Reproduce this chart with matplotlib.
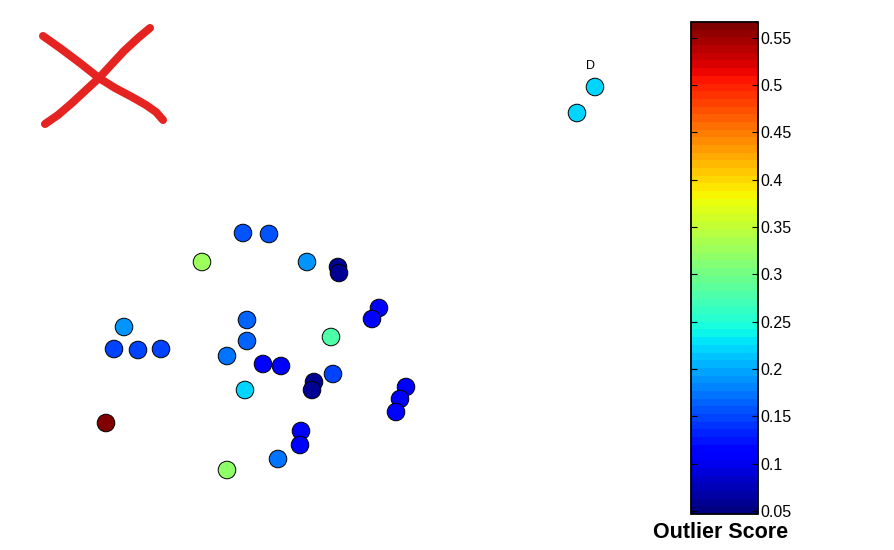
import numpy as np
import matplotlib
matplotlib.use("Agg")
import matplotlib.pyplot as plt

plt.rcParams['font.family'] = ['Liberation Sans', 'DejaVu Sans']

# point positions (picture units, y grows downward) and outlier scores
xs = [243, 269, 202, 307, 338, 339, 379, 372, 124, 247, 331, 114, 138, 161,
      247, 227, 263, 281, 333, 314, 312, 245, 106, 301, 300, 278, 227,
      406, 400, 396, 577, 595]
ys = [233, 234, 262, 262, 267, 273, 308, 319, 327, 320, 337, 349, 350, 349,
      341, 356, 364, 366, 374, 382, 390, 390, 423, 431, 445, 459, 470,
      387, 399, 412, 113, 87]
scores = [0.160, 0.160, 0.330, 0.185, 0.062, 0.062, 0.105, 0.105, 0.185, 0.165,
          0.275, 0.146, 0.146, 0.146, 0.165, 0.170, 0.104, 0.104, 0.150, 0.062,
          0.062, 0.224, 0.566, 0.110, 0.110, 0.170, 0.315,
          0.110, 0.110, 0.112, 0.224, 0.224]

# label for the far point
label_xy = (591, 66)
label_txt = "D"

# red cross strokes
cross_a = [(43, 36), (60, 48), (80, 63), (99, 78), (115, 88), (132, 97),
           (146, 105), (156, 112), (163, 120)]
cross_b = [(150, 28), (138, 38), (124, 51), (111, 65), (99, 78), (86, 90),
           (72, 103), (58, 115), (45, 124)]

cticks = [0.05, 0.1, 0.15, 0.2, 0.25, 0.3, 0.35, 0.4, 0.45, 0.5, 0.55]
vmin, vmax = 0.0468, 0.5666

fig = plt.figure(figsize=(8.95, 5.5), dpi=100)
ax = fig.add_axes([0, 0, 1, 1])
ax.set_xlim(0, 895)
ax.set_ylim(550, 0)
ax.axis('off')

cmap = plt.get_cmap('jet', 64)
sc = ax.scatter(xs, ys, c=scores, cmap=cmap, vmin=vmin, vmax=vmax,
                s=160, edgecolors='black', linewidths=0.7, zorder=3)
ax.text(label_xy[0], label_xy[1], label_txt, fontsize=9, ha='center', va='center')

for stroke in (cross_a, cross_b):
    px, py = zip(*stroke)
    ax.plot(px, py, color='#e52421', lw=5.8, solid_capstyle='round',
            solid_joinstyle='round')

cax = fig.add_axes([691 / 895, (550 - 514) / 550, 67 / 895, 492 / 550])
cb = fig.colorbar(sc, cax=cax, ticks=cticks)
cb.set_ticklabels([('%g' % t) for t in cticks])
cb.outline.set_linewidth(1.3)
cax.tick_params(axis='y', direction='in', left=True, right=True, length=4,
                width=0.8, labelsize=11.5, pad=2)
fig.text(721 / 895, 1 - 533 / 550, "Outlier Score", fontsize=15.5,
         fontweight='bold', ha='center', va='center')

fig.savefig('out.png', dpi=100)
